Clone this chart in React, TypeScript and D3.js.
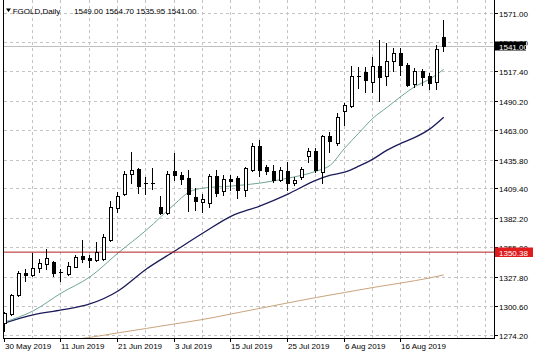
import React from 'react';
import * as d3 from 'd3';

const dates = [
  '30 May 2019','31 May 2019','3 Jun 2019','4 Jun 2019','5 Jun 2019','6 Jun 2019','7 Jun 2019','10 Jun 2019','11 Jun 2019','12 Jun 2019',
  '13 Jun 2019','14 Jun 2019','17 Jun 2019','18 Jun 2019','19 Jun 2019','20 Jun 2019','21 Jun 2019','24 Jun 2019','25 Jun 2019','26 Jun 2019',
  '27 Jun 2019','28 Jun 2019','1 Jul 2019','2 Jul 2019','3 Jul 2019','4 Jul 2019','5 Jul 2019','8 Jul 2019','9 Jul 2019','10 Jul 2019',
  '11 Jul 2019','12 Jul 2019','15 Jul 2019','16 Jul 2019','17 Jul 2019','18 Jul 2019','19 Jul 2019','22 Jul 2019','23 Jul 2019','24 Jul 2019',
  '25 Jul 2019','26 Jul 2019','29 Jul 2019','30 Jul 2019','31 Jul 2019','1 Aug 2019','2 Aug 2019','5 Aug 2019','6 Aug 2019','7 Aug 2019',
  '8 Aug 2019','9 Aug 2019','12 Aug 2019','13 Aug 2019','14 Aug 2019','15 Aug 2019','16 Aug 2019','19 Aug 2019','20 Aug 2019','21 Aug 2019',
  '22 Aug 2019','23 Aug 2019','26 Aug 2019'
];

const open = [
  1285.0,1293.3,1310.8,1331.1,1329.3,1335.7,1339.4,1341.3,1332.0,1330.6,
  1337.1,1346.8,1345.4,1343.1,1344.0,1361.6,1391.1,1404.0,1422.9,1427.1,
  1414.2,1413.2,1392.5,1386.9,1425.2,1421.5,1419.0,1401.2,1397.1,1395.7,
  1420.6,1407.2,1417.8,1418.7,1407.7,1426.6,1448.3,1428.9,1425.7,1417.4,
  1425.7,1414.2,1419.7,1439.1,1443.7,1424.6,1457.5,1450.8,1480.6,1485.5,
  1512.8,1516.8,1507.3,1522.1,1512.9,1527.0,1534.1,1523.0,1505.5,1517.5,
  1512.9,1507.6,1549.0
];
const high = [
  1295.2,1311.7,1333.0,1334.8,1349.6,1344.0,1353.3,1342.2,1334.8,1341.3,
  1347.7,1361.6,1347.3,1359.7,1367.1,1397.5,1405.8,1425.2,1443.0,1428.0,
  1419.7,1427.7,1402.1,1425.2,1441.5,1424.3,1426.6,1409.5,1404.0,1422.4,
  1426.1,1421.5,1421.5,1420.6,1428.9,1451.0,1454.3,1430.7,1430.7,1429.4,
  1433.5,1419.7,1429.4,1446.4,1446.4,1458.4,1461.5,1478.7,1487.9,1522.1,
  1521.1,1521.4,1530.6,1546.0,1543.3,1538.7,1538.7,1524.8,1520.2,1519.8,
  1515.6,1541.4,1564.7
];
const low = [
  1277.6,1292.4,1309.9,1323.7,1328.4,1332.0,1334.8,1328.4,1323.3,1329.3,
  1336.2,1341.3,1336.6,1342.6,1343.1,1360.6,1387.4,1403.1,1414.4,1404.9,
  1404.0,1408.3,1386.0,1385.5,1416.9,1413.2,1388.3,1389.2,1387.9,1392.0,
  1402.1,1403.1,1407.7,1400.3,1402.1,1425.2,1420.6,1422.9,1415.1,1416.0,
  1407.7,1412.3,1417.8,1433.5,1424.3,1414.2,1443.0,1449.2,1467.6,1484.3,
  1501.8,1498.4,1498.4,1489.8,1504.5,1517.7,1513.8,1503.6,1503.0,1504.5,
  1500.9,1501.5,1535.95
];
const close = [
  1294.2,1310.8,1331.1,1329.7,1335.7,1340.3,1345.4,1331.1,1330.8,1337.6,
  1346.3,1344.0,1343.1,1350.5,1364.8,1392.0,1402.1,1422.9,1426.6,1411.8,
  1413.2,1414.2,1386.9,1422.9,1421.5,1417.8,1404.0,1397.5,1399.4,1420.6,
  1405.4,1417.8,1416.0,1407.7,1428.0,1448.3,1426.1,1425.2,1416.9,1426.6,
  1414.2,1416.9,1427.1,1443.7,1426.1,1457.5,1453.2,1475.3,1486.1,1513.1,
  1511.9,1509.2,1522.1,1512.2,1527.0,1534.1,1523.6,1504.5,1517.5,1512.2,
  1507.0,1538.4,1541.0
];

// moving averages (bar index, value)
const fastMaBars = [0,4,8,12,16,20,24,26,28,32,36,40,44,46,48,50,52,54,56,58,60,62];
const fastMaValues = [1285.9,1296.1,1312.7,1327.4,1349.6,1370.8,1394.8,1405.8,1409.5,1411.4,1414.1,1418.7,1425.2,1430.8,1446.4,1460.3,1474.1,1484.2,1494.4,1503.6,1510.1,1519.3];
const midMaBars = [0,4,8,12,16,20,24,28,32,36,40,44,46,48,50,52,54,56,58,60,62];
const midMaValues = [1285.0,1292.4,1297.0,1302.5,1314.5,1334.8,1351.4,1368.0,1383.7,1392.9,1404.0,1416.9,1421.5,1424.3,1429.8,1436.3,1444.6,1451.0,1456.6,1464.0,1475.0];
const slowMaBars = [8,12,16,20,24,28,32,36,40,44,48,52,56,60,62];
const slowMaValues = [1268.4,1271.6,1275.8,1279.9,1284.1,1288.2,1293.3,1298.4,1303.5,1308.5,1313.1,1317.7,1321.9,1326.5,1329.3];

const priceTicks = [1571.0,1544.6,1517.4,1490.2,1463.0,1435.8,1409.4,1382.2,1355.0,1327.8,1300.6,1274.2];
const labelEvery = 8;
const gridEvery = 4;
const symbolTitle = 'FGOLD,Daily';
const lastOHLC = [1549.0, 1564.7, 1535.95, 1541.0];
const bidPrice = 1541.0;
const levelPrice = 1350.38;

const FONT = "Tahoma, 'Liberation Sans', Arial, sans-serif";

export default function App() {
  const W = 536, H = 358;
  const left = 3.5, right = 494.5, bottom = 338.5;
  const x = d3.scaleLinear().domain([0, 69]).range([4.8, 493.3]);
  const y = d3.scaleLinear().domain([1274.2, 1571]).range([334.6, 13.3]);
  const px = (i: number) => Math.round(x(i));
  const py = (v: number) => Math.round(y(v));

  const mkLine = (bars: number[], vals: number[]) =>
    d3.line<number>().x((_, k) => x(bars[k])).y(v => y(v)).curve(d3.curveMonotoneX)(vals) || '';

  const gridX: number[] = [];
  for (let i = gridEvery; i <= 69; i += gridEvery) gridX.push(i);
  const labelIdx: number[] = [];
  for (let i = 0; i < dates.length; i += labelEvery) labelIdx.push(i);

  return (
    <svg width={W} height={H} style={{ position: 'absolute', left: 0, top: 0, background: '#fff' }}
      fontFamily={FONT} fontSize={8}>
      <defs>
        <clipPath id="plot"><rect x={4} y={0} width={490} height={338} /></clipPath>
      </defs>
      <rect x={0} y={0} width={W} height={H} fill="#fff" />
      {/* grid */}
      <g stroke="#c4c4c4" strokeWidth={1} strokeDasharray="3,3">
        {priceTicks.map(t => (
          <line key={'h' + t} x1={4} x2={494} y1={py(t) + 0.5} y2={py(t) + 0.5} />
        ))}
        {gridX.map(i => (
          <line key={'v' + i} x1={px(i) - 0.5} x2={px(i) - 0.5} y1={0} y2={338} />
        ))}
      </g>
      {/* bid line */}
      <line x1={4} x2={494} y1={py(bidPrice) + 0.5} y2={py(bidPrice) + 0.5} stroke="#c0c0c0" strokeWidth={1} />
      <g clipPath="url(#plot)">
        {/* MAs */}
        <path d={mkLine(slowMaBars, slowMaValues)} fill="none" stroke="#c9a47c" strokeWidth={1} />
        <path d={mkLine(midMaBars, midMaValues)} fill="none" stroke="#1b1b5a" strokeWidth={1.3} />
        <path d={mkLine(fastMaBars, fastMaValues)} fill="none" stroke="#6fa597" strokeWidth={1} />
        {/* level line */}
        <line x1={4} x2={494} y1={y(levelPrice)} y2={y(levelPrice)} stroke="#b02020" strokeWidth={1} />
        {/* candles */}
        {open.map((o, i) => {
          const c = close[i];
          const cx = px(i);
          const top = py(Math.max(o, c));
          const bot = py(Math.min(o, c));
          const bull = c >= o;
          const h = Math.max(bot - top, 1);
          return (
            <g key={i}>
              <line x1={cx - 0.5} x2={cx - 0.5} y1={py(high[i])} y2={py(low[i]) + 1} stroke="#000" strokeWidth={1} />
              {h <= 1 ? (
                <line x1={cx - 2} x2={cx + 2} y1={top + 0.5} y2={top + 0.5} stroke="#000" strokeWidth={1} />
              ) : (
                <rect x={cx - 1.5} y={top + 0.5} width={3} height={h} fill={bull ? '#fff' : '#000'} stroke="#000" strokeWidth={1} />
              )}
            </g>
          );
        })}
      </g>
      {/* frame */}
      <g stroke="#000" strokeWidth={1}>
        <line x1={left} x2={left} y1={0} y2={bottom} />
        <line x1={left - 0.5} x2={right + 0.5} y1={bottom} y2={bottom} />
        <line x1={right} x2={right} y1={0} y2={bottom} />
        {priceTicks.map(t => (
          <line key={'yt' + t} x1={right} x2={498} y1={py(t) + 0.5} y2={py(t) + 0.5} />
        ))}
        {labelIdx.map(i => (
          <line key={'xt' + i} x1={px(i) - 0.5} x2={px(i) - 0.5} y1={bottom} y2={342} />
        ))}
      </g>
      {/* y labels */}
      {priceTicks.map(t => (
        <text key={'yl' + t} x={499} y={py(t) + 3.5} fill="#000">{t.toFixed(2)}</text>
      ))}
      {/* x labels */}
      {labelIdx.map(i => (
        <text key={'xl' + i} x={px(i)} y={349} fill="#000">{dates[i]}</text>
      ))}
      {/* bid label */}
      <rect x={495} y={py(bidPrice) - 4.5} width={31} height={9} fill="#000" />
      <text x={499} y={py(bidPrice) + 3.5} fill="#fff">{bidPrice.toFixed(2)}</text>
      {/* level label */}
      <rect x={495} y={Math.round(y(levelPrice)) - 4.5} width={38} height={9.5} fill="#e01c1c" />
      <text x={499} y={Math.round(y(levelPrice)) + 3.5} fill="#fff">{levelPrice.toFixed(2)}</text>
      {/* title */}
      <path d="M6,8.5 L11,8.5 L8.5,12 Z" fill="#000" />
      <text x={12.7} y={13.5} fill="#000">{symbolTitle}</text>
      <text x={74} y={13.5} fill="#000">{lastOHLC.map(v => v.toFixed(2)).join(' ')}</text>
    </svg>
  );
}
